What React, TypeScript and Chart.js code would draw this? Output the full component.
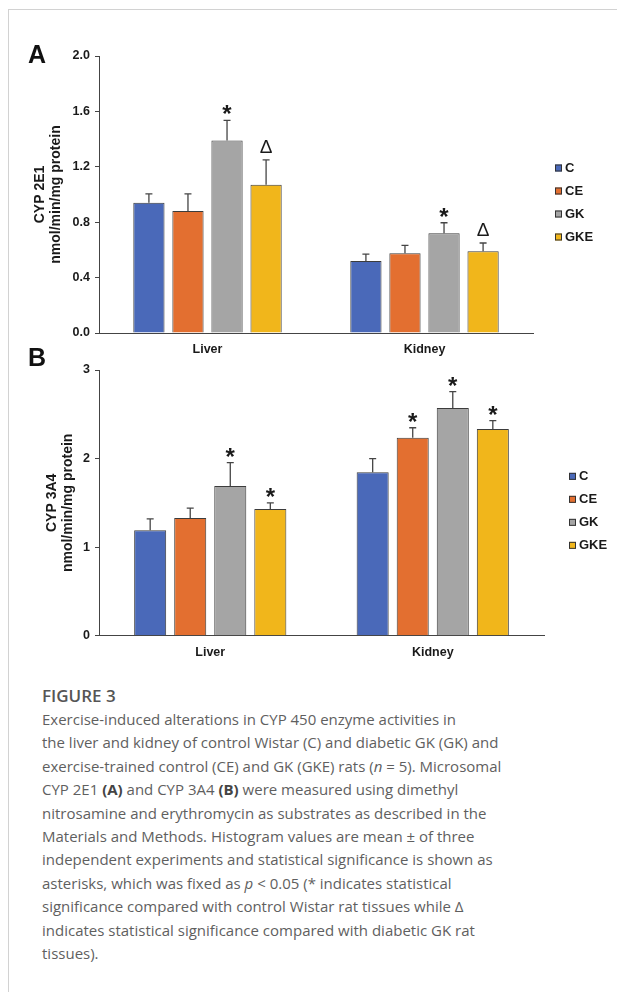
import React, { useEffect, useRef } from 'react';
import { Chart, registerables } from 'chart.js';

Chart.register(...registerables);

// ---------- data ----------
const categories = ['Liver', 'Kidney'];
const seriesNames = ['C', 'CE', 'GK', 'GKE'];
const seriesColors = ['#4a69b9', '#e36f30', '#a5a5a5', '#f1b61b'];

// Panel A: CYP 2E1 (nmol/min/mg protein)
const cA = [0.94, 0.52];
const ceA = [0.88, 0.575];
const gkA = [1.39, 0.72];
const gkeA = [1.07, 0.59];
const cErrA = [0.065, 0.05];
const ceErrA = [0.125, 0.057];
const gkErrA = [0.145, 0.076];
const gkeErrA = [0.18, 0.06];
const cMarkA = ['', ''];
const ceMarkA = ['', ''];
const gkMarkA = ['*', '*'];
const gkeMarkA = ['Δ', 'Δ'];
const ticksA = [0, 0.4, 0.8, 1.2, 1.6, 2.0];
const titleA = ['CYP 2E1', 'nmol/min/mg protein'];

// Panel B: CYP 3A4 (nmol/min/mg protein)
const cB = [1.19, 1.845];
const ceB = [1.33, 2.235];
const gkB = [1.69, 2.57];
const gkeB = [1.43, 2.335];
const cErrB = [0.13, 0.155];
const ceErrB = [0.11, 0.113];
const gkErrB = [0.265, 0.185];
const gkeErrB = [0.07, 0.094];
const cMarkB = ['', ''];
const ceMarkB = ['', '*'];
const gkMarkB = ['*', '*'];
const gkeMarkB = ['*', '*'];
const ticksB = [0, 1, 2, 3];
const titleB = ['CYP 3A4', 'nmol/min/mg protein'];

const captionTitle = 'FIGURE 3';
const captionLines = [
  'Exercise-induced alterations in CYP 450 enzyme activities in',
  'the liver and kidney of control Wistar (C) and diabetic GK (GK) and',
  'exercise-trained control (CE) and GK (GKE) rats (|n| = 5). Microsomal',
  'CYP 2E1 [(A)] and CYP 3A4 [(B)] were measured using dimethyl',
  'nitrosamine and erythromycin as substrates as described in the',
  'Materials and Methods. Histogram values are mean ± of three',
  'independent experiments and statistical significance is shown as',
  'asterisks, which was fixed as |p| < 0.05 (* indicates statistical',
  'significance compared with control Wistar rat tissues while Δ',
  'indicates statistical significance compared with diabetic GK rat',
  'tissues).',
];

// ---------- styling ----------
const FONT = '"Liberation Sans", Arial, Helvetica, sans-serif';
const INK = '#1a1a1a';
const AXIS = '#444444';

const errorBarPlugin = {
  id: 'errorBars',
  afterDatasetsDraw(chart: any) {
    const ctx = chart.ctx;
    const yScale = chart.scales.y;
    chart.data.datasets.forEach((ds: any, i: number) => {
      const meta = chart.getDatasetMeta(i);
      meta.data.forEach((bar: any, j: number) => {
        const v = ds.data[j];
        const e = ds.errors[j];
        const top = yScale.getPixelForValue(v + e);
        ctx.save();
        ctx.strokeStyle = '#454545';
        ctx.lineWidth = 1.3;
        ctx.beginPath();
        ctx.moveTo(bar.x, bar.y);
        ctx.lineTo(bar.x, top);
        ctx.moveTo(bar.x - 3.5, top);
        ctx.lineTo(bar.x + 3.5, top);
        ctx.stroke();
        const m = ds.marks[j];
        if (m) {
          ctx.fillStyle = INK;
          ctx.textAlign = 'center';
          ctx.textBaseline = 'alphabetic';
          if (m === '*') {
            ctx.font = `bold 24px ${FONT}`;
            ctx.fillText(m, bar.x, top + 2);
          } else {
            ctx.font = `19px ${FONT}`;
            ctx.fillText(m, bar.x, top - 6.5);
          }
        }
        ctx.restore();
      });
    });
  },
};

const sideLegendPlugin = {
  id: 'sideLegend',
  afterDraw(chart: any, _args: any, opts: any) {
    const ctx = chart.ctx;
    const area = chart.chartArea;
    const x0 = area.right + opts.offsetX;
    const cy = (area.top + area.bottom) / 2 + opts.offsetY;
    const n = chart.data.datasets.length;
    chart.data.datasets.forEach((ds: any, i: number) => {
      const y = cy + (i - (n - 1) / 2) * opts.spacing;
      ctx.save();
      ctx.fillStyle = ds.backgroundColor;
      ctx.fillRect(x0, y - 3.5, 7, 7);
      ctx.strokeStyle = '#333';
      ctx.lineWidth = 1;
      ctx.strokeRect(x0 + 0.5, y - 3, 6, 6);
      ctx.fillStyle = INK;
      ctx.font = `bold 13px ${FONT}`;
      ctx.textAlign = 'left';
      ctx.textBaseline = 'middle';
      ctx.fillText(ds.label, x0 + 10, y + 0.5);
      ctx.restore();
    });
  },
};

function makeConfig(p: any): any {
  return {
    type: 'bar',
    data: {
      labels: categories,
      datasets: seriesNames.map((name, i) => ({
        label: name,
        data: p.values[i],
        errors: p.errors[i],
        marks: p.marks[i],
        backgroundColor: seriesColors[i],
        borderColor: '#3c3c3c',
        borderWidth: 1,
        categoryPercentage: 0.72,
        barPercentage: 0.8,
      })),
    },
    plugins: [errorBarPlugin, sideLegendPlugin],
    options: {
      animation: false,
      responsive: false,
      maintainAspectRatio: false,
      devicePixelRatio: 1,
      layout: { padding: { left: 0, top: p.padTop, right: p.padRight, bottom: p.padBottom } },
      plugins: {
        legend: { display: false },
        tooltip: { enabled: false },
        sideLegend: { offsetX: p.legendX, offsetY: 8, spacing: 23 },
      },
      scales: {
        x: {
          grid: { display: false, drawTicks: false, tickLength: 0 },
          border: { display: true, color: AXIS, width: 1 },
          ticks: { color: INK, font: { family: FONT, size: 12.5, weight: 'bold' }, padding: 9 },
          afterFit: (s: any) => { s.height = 30; },
        },
        y: {
          min: 0,
          max: p.ticks[p.ticks.length - 1],
          afterBuildTicks: (s: any) => { s.ticks = p.ticks.map((v: number) => ({ value: v })); },
          grid: { display: true, drawOnChartArea: false, drawTicks: true, tickLength: 4, color: AXIS, lineWidth: 1 },
          border: { display: true, color: AXIS, width: 1 },
          ticks: {
            color: INK,
            font: { family: FONT, size: 12.5, weight: 'bold' },
            padding: 5,
            callback: (v: any) => Number(v).toFixed(p.decimals),
          },
          title: {
            display: true,
            text: p.title,
            color: INK,
            font: { family: FONT, size: 14, weight: 'bold', lineHeight: 1.15 },
            padding: { top: p.titlePad, bottom: 0 },
          },
          afterFit: (s: any) => { s.width = 99; },
        },
      },
    },
  };
}

function BarPanel({ cfg, top, height }: { cfg: any; top: number; height: number }) {
  const ref = useRef<HTMLCanvasElement>(null);
  useEffect(() => {
    const chart = new Chart(ref.current as HTMLCanvasElement, cfg);
    return () => chart.destroy();
  }, []);
  return (
    <canvas
      ref={ref}
      width={617}
      height={height}
      style={{ position: 'absolute', left: 0, top, width: 617, height }}
    />
  );
}

const cfgA = makeConfig({
  values: [cA, ceA, gkA, gkeA],
  errors: [cErrA, ceErrA, gkErrA, gkeErrA],
  marks: [cMarkA, ceMarkA, gkMarkA, gkeMarkA],
  ticks: ticksA,
  decimals: 1,
  title: titleA,
  titlePad: 32,
  padTop: 36,
  padRight: 84,
  padBottom: 7,
  legendX: 22,
});

const cfgB = makeConfig({
  values: [cB, ceB, gkB, gkeB],
  errors: [cErrB, ceErrB, gkErrB, gkeErrB],
  marks: [cMarkB, ceMarkB, gkMarkB, gkeMarkB],
  ticks: ticksB,
  decimals: 0,
  title: titleB,
  titlePad: 44,
  padTop: 30,
  padRight: 73,
  padBottom: 4.3,
  legendX: 25,
});

function renderLine(line: string) {
  // |x| -> italic, [x] -> bold
  const parts = line.split(/(\|[^|]+\||\[[^\]]+\])/);
  return parts.map((part, i) => {
    if (part.startsWith('|') && part.endsWith('|')) return <i key={i}>{part.slice(1, -1)}</i>;
    if (part.startsWith('[') && part.endsWith(']')) return <b key={i} style={{ fontWeight: 700, color: '#444' }}>{part.slice(1, -1)}</b>;
    return <React.Fragment key={i}>{part}</React.Fragment>;
  });
}

export default function App() {
  const letterStyle: React.CSSProperties = {
    position: 'absolute',
    left: 28,
    fontFamily: FONT,
    fontWeight: 'bold',
    fontSize: 25,
    lineHeight: '25px',
    color: '#111',
  };
  return (
    <div style={{ position: 'absolute', left: 0, top: 0, width: 617, height: 992, background: '#fff', overflow: 'hidden' }}>
      <div
        style={{
          position: 'absolute',
          left: 8,
          top: 9,
          width: 609,
          height: 983,
          borderTop: '1px solid #d2d2d2',
          borderLeft: '1px solid #d2d2d2',
        }}
      />
      <BarPanel cfg={cfgA} top={20} height={350} />
      <BarPanel cfg={cfgB} top={340} height={330} />
      <div style={{ ...letterStyle, top: 42 }}>A</div>
      <div style={{ ...letterStyle, top: 345 }}>B</div>
      <div
        style={{
          position: 'absolute',
          left: 42,
          top: 683,
          fontFamily: '"Open Sans", "Noto Sans", sans-serif',
          color: '#5f5f5f',
          whiteSpace: 'nowrap',
        }}
      >
        <div style={{ fontSize: 17, fontWeight: 600, lineHeight: '25px', color: '#555' }}>{captionTitle}</div>
        {captionLines.map((l, i) => (
          <div key={i} style={{ fontSize: 15, lineHeight: '23.4px' }}>
            {renderLine(l)}
          </div>
        ))}
      </div>
    </div>
  );
}
